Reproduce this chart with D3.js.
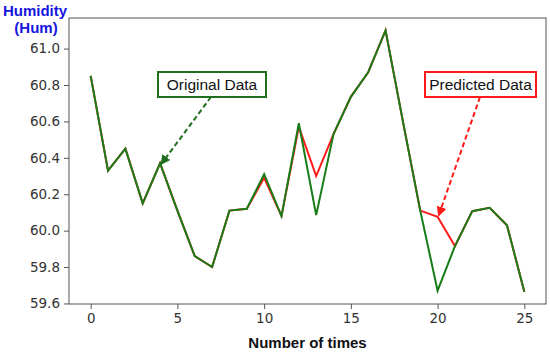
<!DOCTYPE html>
<html>
  <head>
    <meta charset="utf-8">
    <style>
      body { margin: 0; background-color: white; }
      text { font-family: "Liberation Sans", Arial, sans-serif; }
    </style>
    <script src="https://d3js.org/d3.v7.min.js"></script>
  </head>
  <body>
    <script>
    // values
    var times = d3.range(0, 26);
    var original = [60.85, 60.33, 60.45, 60.15, 60.37, 60.11, 59.86, 59.80, 60.11, 60.12,
                    60.31, 60.08, 60.59, 60.085, 60.53, 60.735, 60.87, 61.10, 60.60, 60.11,
                    59.67, 59.915, 60.107, 60.125, 60.03, 59.664];
    var predicted = [60.85, 60.33, 60.45, 60.15, 60.37, 60.11, 59.86, 59.80, 60.11, 60.12,
                     60.29, 60.08, 60.57, 60.30, 60.53, 60.735, 60.87, 61.10, 60.60, 60.11,
                     60.076, 59.915, 60.107, 60.125, 60.03, 59.664];
    var xTicks = [0, 5, 10, 15, 20, 25];
    var yTicks = [59.6, 59.8, 60.0, 60.2, 60.4, 60.6, 60.8, 61.0];

    var width = 550, height = 355;
    // note: "top" is taken by window.top, so use plot* names
    var plotLeft = 69, plotRight = 546, plotTop = 18, plotBottom = 304;

    var x = d3.scaleLinear().domain([-1.25, 26.25]).range([plotLeft, plotRight]);
    var y = d3.scaleLinear().domain([59.597, 61.168]).range([plotBottom, plotTop]);

    var svg = d3.select("body").append("svg")
      .attr("width", width)
      .attr("height", height);

    svg.append("defs").selectAll("marker")
      .data([["headG", "#1e6e1e"], ["headR", "#ff1a1a"]])
      .enter().append("marker")
        .attr("id", d => d[0])
        .attr("viewBox", "0 0 10 10")
        .attr("refX", 9).attr("refY", 5)
        .attr("markerWidth", 5).attr("markerHeight", 5)
        .attr("markerUnits", "strokeWidth")
        .attr("orient", "auto")
      .append("path")
        .attr("d", "M0,0L10,5L0,10z")
        .attr("fill", d => d[1]);

    var line = d3.line()
      .x((d, i) => x(times[i]))
      .y(d => y(d));

    svg.append("path")
      .datum(predicted)
      .attr("fill", "none")
      .attr("stroke", "#ff1a1a")
      .attr("stroke-width", 2)
      .attr("d", line);

    svg.append("path")
      .datum(original)
      .attr("fill", "none")
      .attr("stroke", "#187c18")
      .attr("stroke-width", 2)
      .attr("d", line);

    // frame
    svg.append("rect")
      .attr("x", plotLeft).attr("y", plotTop)
      .attr("width", plotRight - plotLeft).attr("height", plotBottom - plotTop)
      .attr("fill", "none")
      .attr("stroke", "#555")
      .attr("stroke-width", 1);

    var xAxis = svg.append("g")
      .attr("transform", "translate(0," + plotBottom + ")")
      .call(d3.axisBottom(x).tickValues(xTicks).tickSize(5).tickPadding(4).tickFormat(d3.format("d")));
    var yAxis = svg.append("g")
      .attr("transform", "translate(" + plotLeft + ",0)")
      .call(d3.axisLeft(y).tickValues(yTicks).tickSize(5).tickPadding(4).tickFormat(d3.format(".1f")));

    [xAxis, yAxis].forEach(function(g) {
      g.select(".domain").remove();
      g.selectAll("line").attr("stroke", "#555");
      g.selectAll("text")
        .attr("fill", "#333")
        .style("font-size", "13.5px")
        .style("font-family", "'DejaVu Sans', sans-serif");
    });

    // annotations
    function note(label, bx, by, bw, bh, color, from, to, head) {
      svg.append("line")
        .attr("x1", from[0]).attr("y1", from[1])
        .attr("x2", to[0]).attr("y2", to[1])
        .attr("stroke", color)
        .attr("stroke-width", 2)
        .attr("stroke-dasharray", "5,3")
        .attr("marker-end", "url(#" + head + ")");
      svg.append("rect")
        .attr("x", bx).attr("y", by)
        .attr("width", bw).attr("height", bh)
        .attr("fill", "white")
        .attr("stroke", color)
        .attr("stroke-width", 2);
      svg.append("text")
        .attr("x", bx + bw / 2).attr("y", by + bh / 2 + 5.5)
        .attr("text-anchor", "middle")
        .style("font-size", "15.5px")
        .attr("fill", "#111")
        .text(label);
    }

    note("Original Data", 158, 72, 108, 25, "#1e6e1e",
         [211, 97], [x(4) + 1, y(original[4]) + 1], "headG");
    note("Predicted Data", 425, 72, 111, 25, "#ff1a1a",
         [480, 97], [x(20) + 1, y(predicted[20]) - 1], "headR");

    // axis titles
    svg.append("text")
      .attr("x", 35).attr("y", 16)
      .attr("text-anchor", "middle")
      .attr("fill", "#1515e0")
      .style("font-size", "15px")
      .style("font-weight", "bold")
      .text("Humidity");
    svg.append("text")
      .attr("x", 36).attr("y", 33)
      .attr("text-anchor", "middle")
      .attr("fill", "#1515e0")
      .style("font-size", "15px")
      .style("font-weight", "bold")
      .text("(Hum)");

    svg.append("text")
      .attr("x", (plotLeft + plotRight) / 2).attr("y", 348)
      .attr("text-anchor", "middle")
      .attr("fill", "#111")
      .style("font-size", "15px")
      .style("font-weight", "bold")
      .text("Number of times");
    </script>
  </body>
</html>
